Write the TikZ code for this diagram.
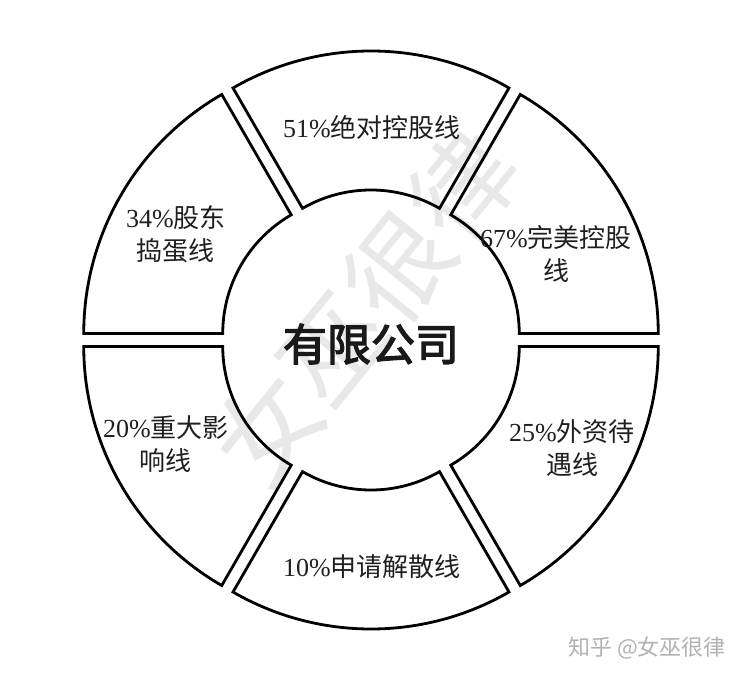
\documentclass[tikz,border=0pt]{standalone}
\usepackage{fontspec}
\setmainfont{Liberation Serif}
\newfontfamily\cjk{Noto Sans CJK SC}
\newfontfamily\cjkcore[FakeBold=3]{Noto Sans CJK SC}
\newcommand{\zh}[1]{{\cjk #1}}
\tikzset{
  segment/.style={draw=black, line width=2.8, line join=miter},
  tag/.style={text=black!88, font=\fontsize{26}{33}\selectfont, align=center},
  core/.style={text=black!90, font=\cjkcore\fontsize{44}{44}\selectfont},
  watermark/.style={text=black!9, font=\cjk\fontsize{104}{104}\selectfont},
  brand/.style={text=black!30, font=\cjk\fontsize{22}{22}\selectfont}
}

\begin{document}
\begin{tikzpicture}[x=1pt,y=1pt]
    \useasboundingbox (-371,-339) rectangle (372,340);
    % faint watermark behind the ring
    \node[watermark, rotate=51] (wm) at (-6,33) {女巫很律};
    % six ring segments, each pushed out along its middle
    \foreach \b in {90,150,210,270,330,390}
        \draw[segment, shift={(\b:13)}]
            (\b-30:137) arc[start angle=\b-30, end angle=\b+30, radius=137]
            -- (\b+30:276) arc[start angle=\b+30, end angle=\b-30, radius=276]
            -- cycle;
    \node[tag] (top) at (1,212) {51\%\zh{绝对控股线}};
    \node[tag] (upleft) at (-195,106) {34\%\zh{股东}\\\zh{捣蛋线}};
    \node[tag] (upright) at (185,86) {67\%\zh{完美控股}\\\zh{线}};
    \node[tag] (lowleft) at (-205,-104) {20\%\zh{重大影}\\\zh{响线}};
    \node[tag] (lowright) at (201,-108) {25\%\zh{外资待}\\\zh{遇线}};
    \node[tag] (bottom) at (1,-227) {10\%\zh{申请解散线}};
    \node[core] (company) at (0,-4) {有限公司};
    \node[brand] (zhihu) at (276,-308) {知乎 @女巫很律};
\end{tikzpicture}
\end{document}
